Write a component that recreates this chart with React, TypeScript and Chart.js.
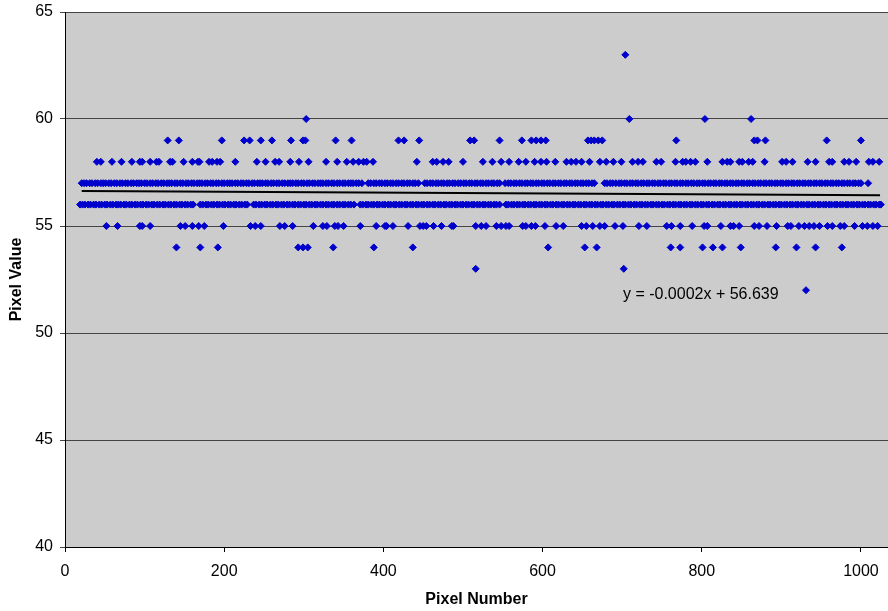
import React, { useEffect, useRef } from "react";
import { Chart, registerables } from "chart.js";

Chart.register(...registerables);

// X positions (pixel number) of the points at each pixel value
const x63 = [704];
const x60 = [303, 709, 804, 862];
const x59 = [129, 143, 197, 225, 232, 246, 260, 284, 299, 302, 340, 360, 419, 426, 445, 509, 514, 546, 574, 586, 592, 598, 604, 657, 661, 665, 670, 675, 768, 866, 870, 880, 957, 1000];
const x58 = [40, 45, 59, 71, 84, 94, 97, 107, 115, 118, 132, 135, 149, 160, 167, 169, 181, 185, 191, 195, 214, 241, 252, 264, 269, 283, 294, 306, 328, 342, 354, 362, 369, 375, 379, 387, 442, 462, 467, 475, 482, 500, 525, 537, 548, 558, 570, 579, 590, 598, 605, 616, 630, 636, 642, 649, 659, 672, 680, 689, 699, 713, 720, 726, 743, 749, 767, 776, 780, 786, 792, 807, 826, 832, 836, 847, 851, 859, 864, 879, 901, 906, 914, 933, 943, 960, 964, 979, 985, 994, 1010, 1015, 1023];
const x57 = [21, 24, 27, 31, 34, 38, 41, 45, 48, 51, 55, 58, 62, 65, 69, 72, 76, 79, 83, 86, 90, 93, 96, 100, 103, 107, 110, 114, 117, 121, 124, 128, 131, 134, 138, 141, 145, 148, 152, 155, 159, 162, 166, 169, 172, 176, 179, 183, 186, 190, 193, 197, 200, 204, 207, 210, 214, 217, 221, 224, 228, 231, 235, 238, 242, 245, 248, 252, 255, 259, 262, 266, 269, 273, 276, 280, 283, 286, 290, 293, 297, 300, 304, 307, 311, 314, 318, 321, 324, 328, 331, 335, 338, 342, 345, 349, 352, 356, 359, 362, 366, 369, 373, 381, 384, 388, 391, 395, 398, 402, 405, 409, 412, 416, 419, 423, 426, 430, 433, 437, 440, 444, 452, 455, 459, 462, 466, 469, 473, 476, 480, 483, 487, 490, 494, 497, 501, 504, 508, 511, 515, 518, 522, 525, 529, 532, 536, 539, 543, 546, 553, 557, 560, 564, 567, 571, 574, 578, 581, 585, 588, 592, 595, 599, 602, 606, 609, 613, 616, 620, 623, 627, 630, 634, 637, 641, 644, 648, 651, 655, 658, 662, 665, 678, 681, 685, 688, 692, 696, 699, 703, 706, 710, 713, 717, 720, 724, 727, 731, 734, 738, 741, 745, 748, 752, 755, 759, 762, 766, 769, 773, 776, 780, 783, 787, 790, 794, 797, 801, 804, 808, 811, 815, 818, 822, 825, 829, 832, 836, 839, 843, 846, 850, 853, 857, 860, 864, 867, 871, 874, 878, 881, 885, 888, 892, 895, 899, 902, 906, 909, 913, 916, 920, 923, 927, 930, 934, 937, 941, 944, 948, 951, 955, 958, 962, 965, 969, 972, 976, 979, 983, 986, 990, 993, 997, 1000, 1009];
const x56 = [19, 22, 25, 29, 32, 36, 39, 43, 46, 50, 53, 57, 60, 64, 67, 70, 74, 77, 81, 84, 88, 91, 95, 98, 102, 105, 109, 112, 116, 119, 123, 126, 130, 133, 137, 140, 144, 147, 151, 154, 158, 161, 170, 173, 177, 180, 184, 187, 191, 194, 198, 201, 205, 208, 212, 215, 219, 222, 226, 229, 237, 240, 244, 247, 251, 254, 258, 261, 265, 268, 272, 275, 279, 282, 286, 289, 293, 296, 300, 303, 307, 310, 314, 317, 321, 324, 328, 331, 335, 338, 342, 345, 349, 352, 356, 359, 363, 371, 374, 378, 381, 385, 388, 392, 395, 399, 402, 406, 409, 413, 416, 420, 423, 427, 430, 434, 437, 441, 444, 448, 451, 455, 458, 462, 465, 469, 472, 476, 479, 483, 486, 490, 493, 497, 500, 504, 507, 511, 514, 518, 521, 525, 528, 532, 535, 539, 542, 546, 554, 557, 561, 564, 568, 571, 575, 578, 582, 585, 589, 592, 596, 599, 603, 606, 610, 613, 617, 620, 624, 627, 631, 634, 638, 641, 645, 648, 652, 655, 659, 662, 666, 669, 673, 676, 680, 683, 687, 690, 694, 697, 701, 704, 708, 711, 715, 718, 722, 725, 729, 732, 736, 739, 743, 746, 750, 753, 757, 760, 764, 767, 771, 774, 778, 781, 785, 788, 792, 795, 799, 802, 806, 809, 813, 816, 820, 823, 827, 830, 834, 837, 841, 844, 848, 851, 855, 858, 862, 865, 869, 872, 876, 879, 883, 886, 890, 893, 897, 900, 904, 907, 911, 914, 918, 921, 925, 928, 932, 935, 939, 942, 946, 949, 953, 956, 960, 963, 967, 970, 974, 977, 981, 984, 988, 991, 995, 998, 1002, 1005, 1009, 1012, 1016, 1019, 1023, 1025];
const x55 = [52, 66, 94, 97, 107, 145, 151, 160, 168, 175, 199, 233, 239, 246, 270, 276, 286, 312, 324, 329, 339, 343, 350, 371, 391, 402, 404, 412, 431, 446, 450, 454, 463, 473, 486, 488, 516, 523, 529, 542, 548, 554, 558, 575, 579, 586, 591, 603, 617, 626, 649, 655, 663, 672, 678, 691, 701, 721, 731, 756, 762, 773, 788, 803, 807, 824, 836, 840, 847, 866, 872, 882, 894, 908, 912, 922, 929, 935, 941, 948, 958, 964, 974, 979, 992, 1002, 1008, 1015, 1021];
const x54 = [140, 170, 192, 293, 299, 305, 337, 388, 437, 607, 653, 668, 761, 773, 801, 814, 826, 849, 893, 919, 943, 976];
const x53 = [516, 702];
const x52 = [931];

const pixelValues = [63, 60, 59, 58, 57, 56, 55, 54, 53, 52];
const pixelPositions = [x63, x60, x59, x58, x57, x56, x55, x54, x53, x52];

// Linear trendline y = -0.0002x + 56.639
const trendSlope = -0.0002;
const trendIntercept = 56.639;
const trendRange = [21, 1024];
const trendLabel = "y = -0.0002x + 56.639";
const trendLabelAt = { x: 701, y: 51.78 };

const xTicks = [0, 200, 400, 600, 800, 1000];
const FONT = "'Liberation Sans', Arial, Helvetica, sans-serif";

export default function App() {
  const ref = useRef<HTMLCanvasElement | null>(null);

  useEffect(() => {
    if (!ref.current) return;
    const points: { x: number; y: number }[] = [];
    pixelPositions.forEach((xs, i) => {
      xs.forEach((x) => points.push({ x, y: pixelValues[i] }));
    });
    points.sort((a, b) => a.x - b.x);
    const trend = trendRange.map((x) => ({ x, y: trendSlope * x + trendIntercept }));

    const bgPlugin = {
      id: "bgPlugin",
      beforeDraw(chart: any) {
        const { ctx, chartArea } = chart;
        ctx.save();
        ctx.fillStyle = "#ffffff";
        ctx.fillRect(0, 0, chart.width, chart.height);
        ctx.fillStyle = "#cccccc";
        ctx.fillRect(chartArea.left, chartArea.top, chartArea.right - chartArea.left, chartArea.bottom - chartArea.top);
        ctx.restore();
      },
    };
    const labelPlugin = {
      id: "labelPlugin",
      afterDatasetsDraw(chart: any) {
        const { ctx, scales } = chart;
        ctx.save();
        ctx.fillStyle = "#000000";
        ctx.font = `16px ${FONT}`;
        ctx.textAlign = "left";
        ctx.textBaseline = "middle";
        ctx.fillText(trendLabel, scales.x.getPixelForValue(trendLabelAt.x), scales.y.getPixelForValue(trendLabelAt.y));
        ctx.restore();
      },
    };

    const zeroPad = (scale: any) => {
      scale.paddingLeft = 0;
      scale.paddingRight = 0;
      scale.paddingTop = 0;
      scale.paddingBottom = 0;
    };

    const chart = new Chart(ref.current, {
      type: "scatter",
      data: {
        datasets: [
          {
            type: "line",
            data: trend,
            borderColor: "#000000",
            borderWidth: 2,
            pointRadius: 0,
            fill: false,
          } as any,
          {
            data: points,
            pointStyle: "rectRot",
            pointRadius: 3.5,
            pointBorderWidth: 1,
            pointBackgroundColor: "#0000cc",
            pointBorderColor: "#0000cc",
            showLine: false,
          },
        ],
      },
      options: {
        animation: false,
        responsive: false,
        events: [],
        layout: { autoPadding: false, padding: { top: 12, left: 0, right: 0, bottom: 0 } },
        plugins: { legend: { display: false }, tooltip: { enabled: false } },
        scales: {
          x: {
            type: "linear",
            min: 0,
            max: 1034,
            afterBuildTicks: (scale: any) => {
              scale.ticks = xTicks.map((v) => ({ value: v }));
            },
            afterFit: (scale: any) => {
              scale.height = 64;
              zeroPad(scale);
            },
            ticks: {
              color: "#000000",
              font: { family: FONT, size: 16 },
              padding: 10,
              maxRotation: 0,
              callback: (v: any) => String(v),
            },
            grid: {
              display: true,
              drawOnChartArea: false,
              drawTicks: true,
              tickLength: 5,
              color: "#000000",
            },
            border: { display: true, color: "#000000", width: 1 },
            title: {
              display: true,
              text: "Pixel Number",
              color: "#000000",
              font: { family: FONT, size: 16, weight: "bold" },
              padding: { top: 0, bottom: 1.5 },
            },
          },
          y: {
            type: "linear",
            min: 40,
            max: 65,
            afterFit: (scale: any) => {
              scale.width = 65;
              zeroPad(scale);
            },
            ticks: {
              stepSize: 5,
              color: "#000000",
              font: { family: FONT, size: 16 },
              padding: 7,
              callback: (v: any) => String(v),
            },
            grid: {
              display: true,
              drawOnChartArea: true,
              drawTicks: true,
              tickLength: 5,
              color: "#444444",
            },
            border: { display: true, color: "#000000", width: 1 },
            title: {
              display: true,
              text: "Pixel Value",
              color: "#000000",
              font: { family: FONT, size: 16, weight: "bold" },
              padding: { top: 7, bottom: 0 },
            },
          },
        },
      },
      plugins: [bgPlugin, labelPlugin],
    });
    return () => chart.destroy();
  }, []);

  return (
    <div style={{ position: "absolute", left: 0, top: 0, width: 888, height: 611 }}>
      <canvas ref={ref} width={888} height={611} />
    </div>
  );
}
